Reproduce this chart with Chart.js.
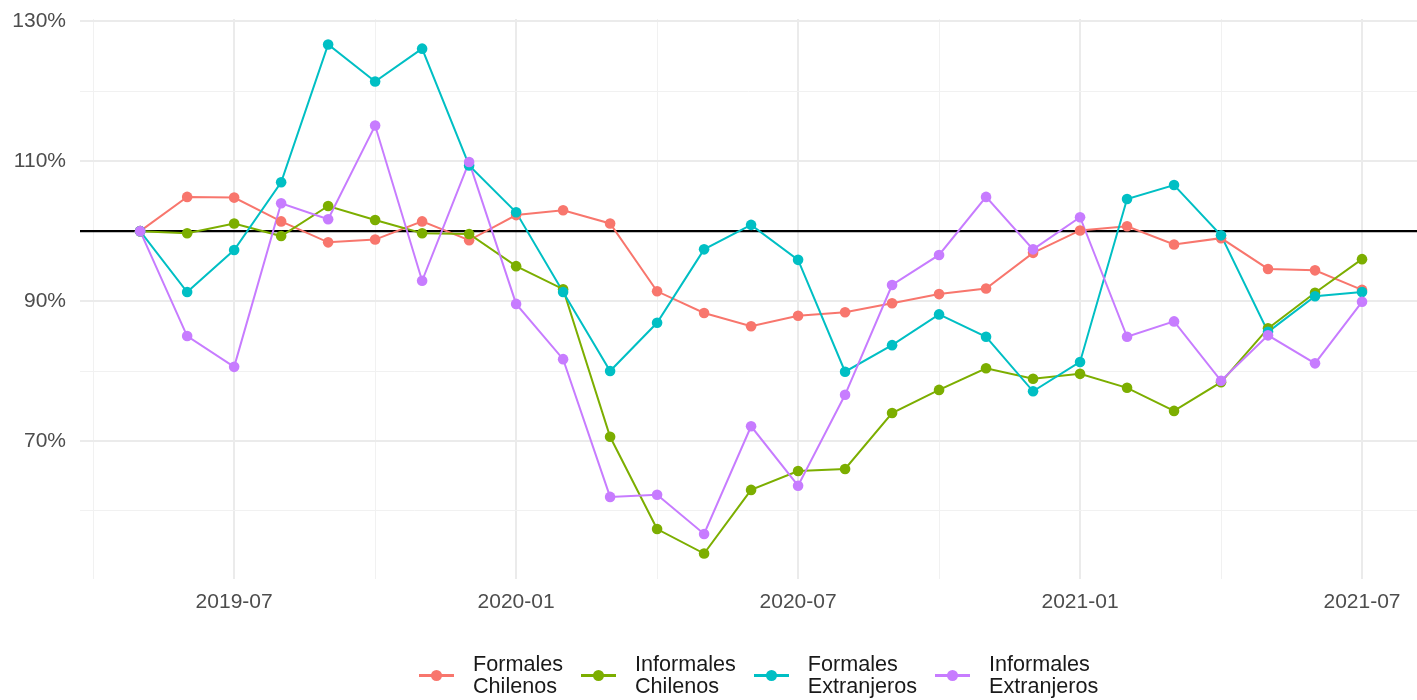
<!DOCTYPE html>
<html>
<head>
<meta charset="utf-8">
<script src="https://cdn.jsdelivr.net/npm/chart.js@4/dist/chart.umd.min.js"></script>
<style>
html,body{margin:0;padding:0;background:#fff;}
#wrap{position:relative;width:1417px;height:700px;overflow:hidden;}
#c{position:absolute;left:0;top:0;}
#legend{position:absolute;top:653px;left:419px;display:flex;align-items:center;font-family:"Liberation Sans",Arial,sans-serif;font-size:21.6px;line-height:22px;color:#1a1a1a;}
.item{display:flex;align-items:center;margin-right:18px;}
.key{position:relative;width:35px;height:11px;margin-right:19px;}
.key .ln{position:absolute;left:0;right:0;top:4px;height:3px;}
.key .dot{position:absolute;left:12px;top:0;width:11px;height:11px;border-radius:50%;}
</style>
</head>
<body>
<div id="wrap">
<canvas id="c" width="1417" height="700"></canvas>
<div id="legend"></div>
</div>
<script>
// ---- Data ----
const months = ['2019-05','2019-06','2019-07','2019-08','2019-09','2019-10','2019-11','2019-12',
  '2020-01','2020-02','2020-03','2020-04','2020-05','2020-06','2020-07','2020-08','2020-09','2020-10','2020-11','2020-12',
  '2021-01','2021-02','2021-03','2021-04','2021-05','2021-06','2021-07'];
const formalesChilenos = [100,104.9,104.8,101.4,98.4,98.8,101.4,98.7,102.3,103.0,101.1,91.4,88.3,86.4,87.9,88.4,89.7,91.0,91.8,96.9,100.1,100.7,98.1,99.0,94.6,94.4,91.6];
const informalesChilenos = [100,99.7,101.1,99.3,103.6,101.6,99.7,99.6,95.0,91.7,70.6,57.4,53.9,63.0,65.7,66.0,74.0,77.3,80.4,78.9,79.6,77.6,74.3,78.4,86.1,91.2,96.0];
const formalesExtranjeros = [100,91.3,97.3,107.0,126.7,121.4,126.1,109.4,102.7,91.3,80.0,86.9,97.4,100.9,95.9,79.9,83.7,88.1,84.9,77.1,81.3,104.6,106.6,99.4,85.6,90.7,91.3];
const informalesExtranjeros = [100,85.0,80.6,104.0,101.7,115.1,92.9,109.9,89.6,81.7,62.0,62.3,56.7,72.1,63.6,76.6,92.3,96.6,104.9,97.4,102.0,84.9,87.1,78.6,85.1,81.1,89.9];
const seriesNames = [['Formales','Chilenos'],['Informales','Chilenos'],['Formales','Extranjeros'],['Informales','Extranjeros']];
const seriesColors = ['#F8766D','#7CAE00','#00BFC4','#C77CFF'];
const xTickLabels = ['2019-07','2020-01','2020-07','2021-01','2021-07'];
const yTickLabels = [70,90,110,130];
const yMinorTicks = [60,80,100,120];
const referenceLevel = 100;

// ---- Build ----
const seriesValues = [formalesChilenos, informalesChilenos, formalesExtranjeros, informalesExtranjeros];
const toPts = arr => arr.map((v,i)=>({x:i,y:v}));
const majorX = xTickLabels.map(l=>months.indexOf(l));
const minorX = majorX.map(i=>i-3);
const xTickPositions = [...majorX, ...minorX].sort((a,b)=>a-b);
const yTickPositions = [...yTickLabels, ...yMinorTicks].sort((a,b)=>a-b);

const lineSets = [], pointSets = [];
seriesValues.forEach((vals, k) => {
  const name = seriesNames[k].join(' ');
  lineSets.push({label:name, data:toPts(vals), borderColor:seriesColors[k], borderWidth:2,
    pointRadius:0, fill:false, tension:0, showLine:true});
  pointSets.push({label:name+' pts', data:toPts(vals), backgroundColor:seriesColors[k], borderWidth:0,
    pointRadius:5.3, pointHoverRadius:5.3, showLine:false});
});
// first dataset is drawn on top in Chart.js
const datasets = [...pointSets.slice().reverse(), ...lineSets.slice().reverse()];

const refLine = {
  id:'refLine',
  beforeDatasetsDraw(chart){
    const {ctx, chartArea, scales} = chart;
    const y = scales.y.getPixelForValue(referenceLevel);
    ctx.save();
    ctx.strokeStyle = '#000';
    ctx.lineWidth = 2.2;
    ctx.beginPath();
    ctx.moveTo(chartArea.left, y);
    ctx.lineTo(chartArea.right, y);
    ctx.stroke();
    ctx.restore();
  }
};

const axisFont = {family:'"Liberation Sans", Arial, sans-serif', size:21};
const noPad = s => { s.paddingTop = 0; s.paddingBottom = 0; s.paddingLeft = 0; s.paddingRight = 0; };

new Chart(document.getElementById('c'), {
  type:'scatter',
  data:{datasets},
  plugins:[refLine],
  options:{
    responsive:false, animation:false, devicePixelRatio:1,
    layout:{autoPadding:false, padding:{top:19,right:0,bottom:80,left:0}},
    plugins:{legend:{display:false}, tooltip:{enabled:false}},
    scales:{
      x:{
        type:'linear', min:-1.28, max:27.17,
        afterBuildTicks:s=>{ s.ticks = xTickPositions.map(v=>({value:v})); },
        afterFit:s=>{ s.height = 41; noPad(s); },
        ticks:{autoSkip:false, maxRotation:0, minRotation:0, padding:11, color:'#4d4d4d', font:axisFont,
          callback:v=>{ const i = majorX.indexOf(v); return i>=0 ? xTickLabels[i] : ''; }},
        grid:{drawTicks:false,
          color:c=> (c.tick && majorX.includes(c.tick.value)) ? '#ebebeb' : '#f1f1f1',
          lineWidth:c=> (c.tick && majorX.includes(c.tick.value)) ? 2 : 1},
        border:{display:false}
      },
      y:{
        type:'linear', min:50.26, max:130.34,
        afterBuildTicks:s=>{ s.ticks = yTickPositions.map(v=>({value:v})); },
        afterFit:s=>{ s.width = 80; noPad(s); },
        ticks:{autoSkip:false, padding:14, color:'#4d4d4d', font:axisFont,
          callback:v=> yTickLabels.includes(v) ? v+'%' : ''},
        grid:{drawTicks:false,
          color:c=> (c.tick && yTickLabels.includes(c.tick.value)) ? '#ebebeb' : '#f1f1f1',
          lineWidth:c=> (c.tick && yTickLabels.includes(c.tick.value)) ? 2 : 1},
        border:{display:false}
      }
    }
  }
});

// ---- HTML legend ----
const lg = document.getElementById('legend');
seriesNames.forEach((lines,k)=>{
  const it = document.createElement('div'); it.className='item';
  const key = document.createElement('div'); key.className='key';
  const ln = document.createElement('div'); ln.className='ln'; ln.style.background=seriesColors[k];
  const dot = document.createElement('div'); dot.className='dot'; dot.style.background=seriesColors[k];
  key.appendChild(ln); key.appendChild(dot);
  const tx = document.createElement('div'); tx.innerHTML = lines.join('<br>');
  it.appendChild(key); it.appendChild(tx);
  lg.appendChild(it);
});
</script>
</body>
</html>
